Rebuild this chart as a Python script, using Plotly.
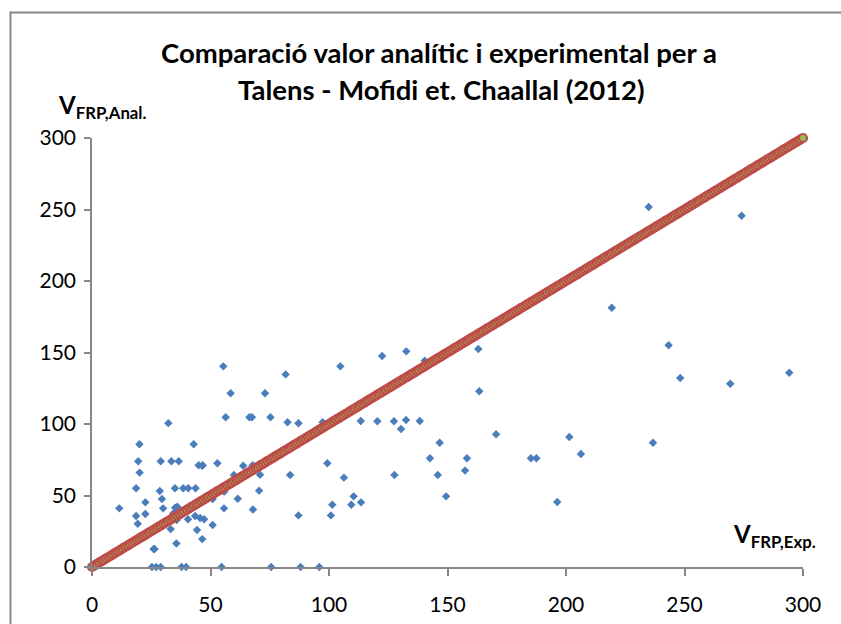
import plotly.graph_objects as go

# Experimental shear contribution V_FRP,Exp. (kN)
v_exp = [
    25.3, 27.1, 29.0, 37.8, 39.7, 54.7, 75.6, 88.0, 95.9,
    26.0, 26.4, 35.6, 46.5, 44.3, 33.2, 50.9, 19.3, 35.7, 40.5,
    47.3, 45.6, 43.5, 18.6, 22.5, 34.3, 11.5, 30.0, 35.1, 36.0,
    55.7, 67.9, 22.5, 29.5, 50.9, 61.5, 55.8, 70.5, 28.6, 18.6,
    35.0, 38.5, 40.6, 43.7, 59.9, 70.9, 83.6, 20.1, 46.5, 52.9,
    63.8, 67.8, 45.0, 46.7, 19.5, 29.0, 33.5, 36.6, 20.0, 42.9,
    85.5, 32.2, 82.5, 87.1, 97.3, 56.4, 66.4, 67.5, 75.3, 58.5,
    73.0, 81.7, 55.4, 104.8, 122.4, 132.6, 140.4, 113.4, 120.4, 127.4,
    132.5, 130.4, 138.3, 146.7, 142.6, 158.2, 157.4, 99.3, 106.3, 127.6,
    145.9, 149.4, 101.4, 100.8, 87.1, 110.4, 109.4, 113.5, 163.0, 163.4,
    170.5, 185.2, 187.5, 201.4, 206.3, 196.3, 219.3, 234.9, 243.3, 248.2,
    236.7, 269.3, 274.1, 294.2,
]

# Analytical prediction V_FRP,Anal. (kN), same order as v_exp
v_anal = [
    0, 0, 0, 0, 0, 0, 0, 0, 0,
    12.6, 12.6, 16.4, 19.5, 25.9, 26.5, 29.4, 30.3, 32.9, 33.4,
    33.4, 34.3, 35.7, 35.7, 37.1, 37.5, 41.0, 41.0, 41.5, 42.2,
    41.0, 40.2, 45.2, 47.6, 47.6, 47.7, 52.7, 53.4, 53.1, 55.0,
    55.0, 55.0, 55.0, 55.0, 64.4, 64.5, 64.3, 66.0, 70.8, 72.5,
    70.8, 71.2, 71.1, 71.1, 73.9, 73.9, 73.9, 73.9, 85.8, 85.8,
    86.3, 100.6, 101.2, 100.5, 101.2, 104.7, 104.7, 104.7, 104.7, 121.5,
    121.5, 134.7, 140.3, 140.3, 147.6, 150.8, 144.3, 102.1, 101.9, 101.9,
    102.8, 96.5, 102.1, 86.9, 76.0, 76.0, 67.4, 72.5, 62.5, 64.3,
    64.3, 49.4, 43.6, 36.1, 36.1, 49.4, 43.6, 45.2, 152.4, 122.9,
    92.8, 76.0, 76.0, 90.9, 79.0, 45.5, 181.3, 251.7, 155.0, 132.2,
    86.9, 128.2, 245.7, 135.9,
]

# Reference line of equal values (analytical = experimental), one point per kN
ref_x = list(range(0, 301))
ref_y = list(range(0, 301))

tick_vals = [0, 50, 100, 150, 200, 250, 300]
tick_text = ["0", "50", "100", "150", "200", "250", "300"]

title_line1 = "Comparació valor analític i experimental per a"
title_line2 = "Talens - Mofidi et. Chaallal (2012)"

AXIS_GREY = "#868686"
FONT = "Lato"

fig = go.Figure()

fig.add_trace(go.Scatter(
    x=v_exp, y=v_anal, mode="markers",
    marker=dict(symbol="diamond", size=6.5, color="#4a7ebb"),
    cliponaxis=False, showlegend=False,
))

fig.add_trace(go.Scatter(
    x=ref_x, y=ref_y, mode="markers",
    marker=dict(symbol="circle", size=8, color="#9bbb59",
                line=dict(color="#be4b48", width=2.2)),
    cliponaxis=False, showlegend=False,
))

# plot area: x 0..300 spans px 92..803, y 0..300 spans px 567..138
L, R, T, B = 92, 38, 138, 57
W, H = 841, 624
pw, ph = W - L - R, H - T - B


def px(xp):
    return (xp - L) / pw


def py(yp):
    return (H - B - yp) / ph


axis_common = dict(
    range=[0, 300], tickvals=tick_vals, ticktext=tick_text,
    showgrid=False, zeroline=False, showline=True,
    linecolor=AXIS_GREY, linewidth=1.5,
    ticks="outside", tickcolor=AXIS_GREY, tickwidth=1.5,
    tickfont=dict(family=FONT, size=21, color="black"),
    fixedrange=True, automargin=False,
)

# outer chart frame: only its top and left edges fall inside the page
frame = dict(color=AXIS_GREY, width=2)

fig.update_layout(
    width=W, height=H, autosize=False,
    margin=dict(l=L, r=R, t=T, b=B, pad=0, autoexpand=False),
    paper_bgcolor="white", plot_bgcolor="white",
    xaxis=dict(**axis_common, ticklen=7, ticklabelstandoff=11),
    yaxis=dict(**axis_common, ticklen=6, ticklabelstandoff=4),
    shapes=[
        dict(type="line", xref="paper", yref="paper",
             x0=px(10.5), x1=px(W + 5), y0=py(12.5), y1=py(12.5), line=frame),
        dict(type="line", xref="paper", yref="paper",
             x0=px(10.5), x1=px(10.5), y0=py(11.5), y1=py(H + 5), line=frame),
    ],
    annotations=[
        dict(text="<b>" + title_line1 + "</b>", xref="paper", yref="paper",
             x=px(439), y=py(53), xanchor="center", yanchor="middle",
             showarrow=False, font=dict(family=FONT, size=27.5, color="black")),
        dict(text="<b>" + title_line2 + "</b>", xref="paper", yref="paper",
             x=px(441), y=py(89), xanchor="center", yanchor="middle",
             showarrow=False, font=dict(family=FONT, size=27.5, color="black")),
        dict(text="<b>V<sub>FRP,Anal.</sub></b>", xref="paper", yref="paper",
             x=px(56), y=py(107), xanchor="left", yanchor="middle",
             showarrow=False, font=dict(family=FONT, size=24, color="black")),
        dict(text="<b>V<sub>FRP,Exp.</sub></b>", xref="paper", yref="paper",
             x=px(731), y=py(535), xanchor="left", yanchor="middle",
             showarrow=False, font=dict(family=FONT, size=24, color="black")),
    ],
)

fig.write_html("out.html")
